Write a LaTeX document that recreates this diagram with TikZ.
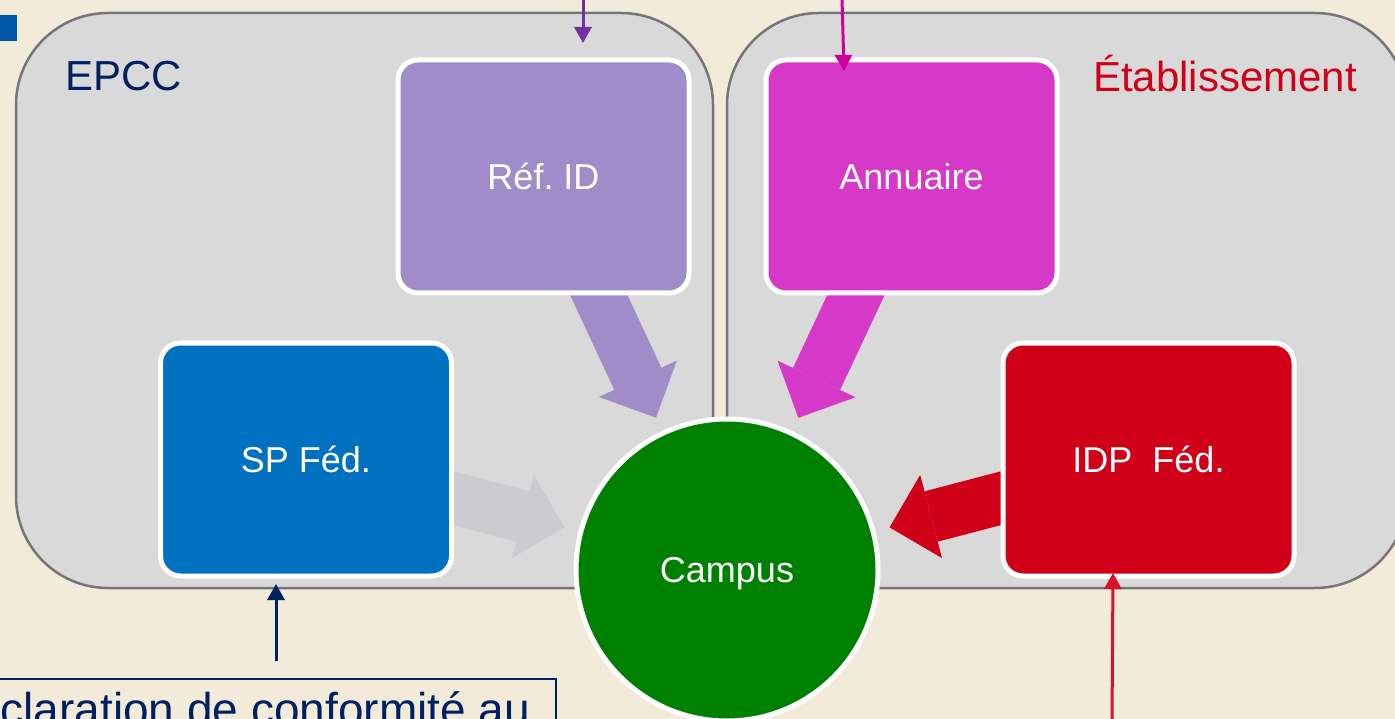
\documentclass[tikz,border=0pt]{standalone}
\usepackage{fontspec}
\setmainfont{Liberation Sans}
\usetikzlibrary{arrows.meta}

\definecolor{beige}{RGB}{242,235,218}
\definecolor{panelfill}{RGB}{217,217,217}
\definecolor{panelline}{RGB}{118,118,118}
\definecolor{refid}{RGB}{160,140,200}
\definecolor{annu}{RGB}{214,56,200}
\definecolor{spblue}{RGB}{0,112,192}
\definecolor{idpred}{RGB}{208,0,24}
\definecolor{campusgreen}{RGB}{0,128,0}
\definecolor{spflow}{RGB}{204,204,208}
\definecolor{navy}{RGB}{0,32,96}
\definecolor{refline}{RGB}{112,48,160}
\definecolor{magline}{RGB}{208,0,160}
\definecolor{redline}{RGB}{220,16,40}
\definecolor{bulletblue}{RGB}{0,86,166}

\pgfdeclarelayer{panels}
\pgfdeclarelayer{flows}
\pgfsetlayers{panels,flows,main}

\begin{document}
\begin{tikzpicture}[x=1pt,y=-1pt,
  panel/.style={draw=panelline, fill=panelfill, line width=2.5pt,
    rounded corners=92pt, minimum height=575pt, inner sep=0pt},
  paneltitle/.style={font=\fontsize{42}{50}\selectfont, inner sep=0pt, anchor=base west},
  service/.style={draw=white, line width=5pt, rounded corners=20pt,
    minimum width=291pt, minimum height=233pt, text=white,
    text depth=0pt, font=\fontsize{36}{43}\selectfont},
  flow/.style={line width=52pt,
    -{Triangle[width=86pt,length=43pt,line width=0pt]}, shorten >=14.5pt},
  feed/.style={line width=3pt, -{Triangle[width=17pt,length=16pt]}}]

\useasboundingbox (0,0) rectangle (1395,719);

% background, bullet and the two domains
\begin{pgfonlayer}{panels}
  \fill[beige] (0,0) rectangle (1395,719);
  \fill[bulletblue] (0,15) rectangle (17,41);
  \node[panel, minimum width=697pt] (epcc) at (364.5,300.5) {};
  \node[panel, minimum width=680pt] (etab) at (1067,300.5) {};
\end{pgfonlayer}

\node[paneltitle, text=navy] (epcctitle) at (65,91) {EPCC};
\node[paneltitle, text=idpred] (etabtitle) at (1093,92) {Établissement};

% services
\node[service, fill=refid] (ref) at (543.5,176.5) {Réf.\ ID};
\node[service, fill=annu] (annuaire) at (911.5,176.5) {Annuaire};
\node[service, fill=spblue] (sp) at (306,459.5) {SP Féd.};
\node[service, fill=idpred] (idp) at (1148.5,459.5) {IDP\ \ Féd.};
\node[circle, draw=white, line width=5pt, fill=campusgreen, minimum size=302pt,
  text=white, text depth=0pt, font=\fontsize{36}{43}\selectfont] (campus) at (727,570) {Campus};

% block arrows towards the campus
\begin{pgfonlayer}{flows}
  \draw[flow, refid] (ref.center) -- (campus);
  \draw[flow, annu] (annuaire.center) -- (campus);
  \draw[flow, spflow] (sp.center) -- (campus);
  \draw[flow, idpred] (idp.center) -- (campus);
\end{pgfonlayer}

% declaration box
\node[draw=navy, line width=2.5pt, text=navy, font=\fontsize{46}{55}\selectfont,
  anchor=north east, inner xsep=26pt, inner ysep=13pt, outer sep=0pt] (decl)
  at (556,679) {Déclaration de conformité au};

% incoming thin arrows
\coordinate (refsrc) at (583,-2);
\coordinate (annusrc) at (842,-2);
\coordinate (declsrc) at (276,661);
\coordinate (idpsrc) at (1112,722);
\draw[feed, refline] (refsrc) -- ([xshift=39.5pt,yshift=14.5pt]ref.north);
\draw[feed, magline] (annusrc) -- ([xshift=-67.5pt,yshift=-13.5pt]annuaire.north);
\draw[feed, navy] (declsrc) -- ([xshift=-30pt,yshift=-5.5pt]sp.south);
\draw[feed, redline] (idpsrc) -- ([xshift=-35.5pt,yshift=5.5pt]idp.south);

\end{tikzpicture}
\end{document}
